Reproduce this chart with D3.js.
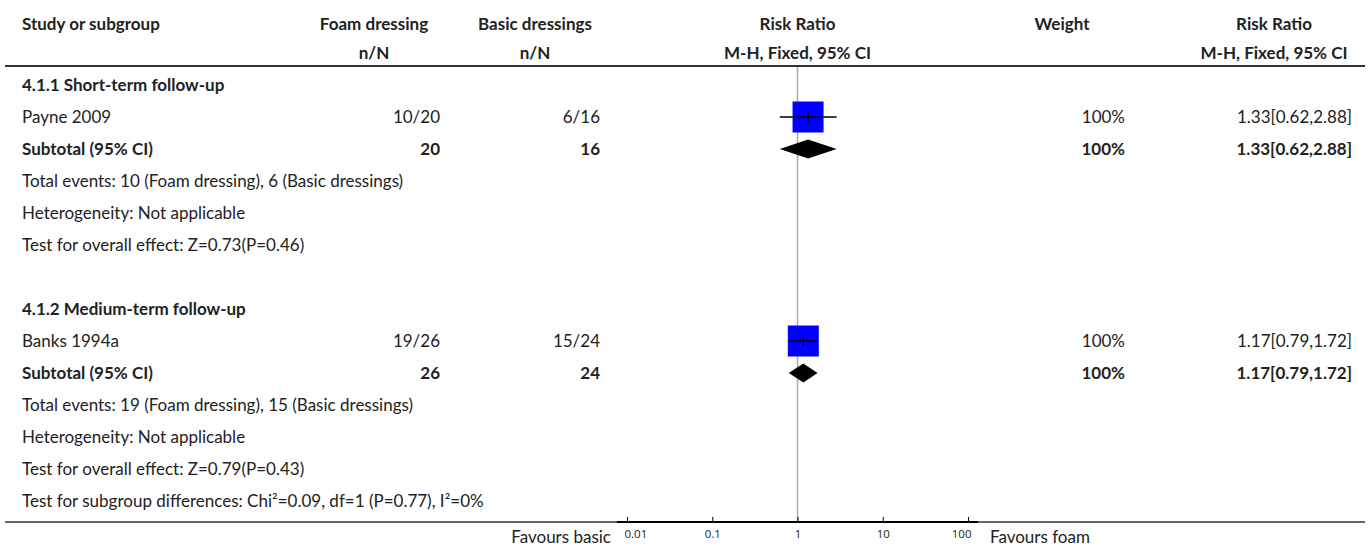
<!DOCTYPE html>
<meta charset="utf-8">
<html>
  <style>
    body { margin: 0; background: #fff; }
    text { font-family: "Source Sans Pro", Lato, sans-serif; font-size: 17px; fill: #222; }
    .bold { font-weight: bold; }
    .tick text { font-family: "Open Sans", "DejaVu Sans", sans-serif; font-size: 11.5px; fill: #222; }
  </style>
  <head>
    <script src="https://d3js.org/d3.v7.min.js"></script>
  </head>
  <body>
    <script>
      // data
      var groupNames = ["4.1.1 Short-term follow-up", "4.1.2 Medium-term follow-up"];
      var studyNames = ["Payne 2009", "Banks 1994a"];
      var foamEvents = [10, 19], foamTotal = [20, 26];
      var basicEvents = [6, 15], basicTotal = [16, 24];
      var riskRatio = [1.33, 1.17], ciLow = [0.62, 0.79], ciHigh = [2.88, 1.72];
      var weights = [100, 100];
      var overallEffect = ["Z=0.73(P=0.46)", "Z=0.79(P=0.43)"];
      var subgroupTest = "Test for subgroup differences: Chi\u00b2=0.09, df=1 (P=0.77), I\u00b2=0%";
      var axisTicks = [0.01, 0.1, 1, 10, 100];

      var width = 1370, height = 550;

      var svg = d3.select("body").append("svg")
          .attr("width", width)
          .attr("height", height);

      // columns
      var colStudy = 22, colFoam = 440, colBasic = 600,
          colFoamHead = 374, colBasicHead = 535,
          colWeightHead = 1062, colWeight = 1125, colRR = 1352, colRRHead = 1274;

      // row positions
      var row = d3.scaleLinear().domain([0, 13]).range([85, 501]);
      var headY1 = 24, headY2 = 53, ruleY = 66, axisY = 522;

      // forest scale
      var x = d3.scaleLog().domain([0.01, 100]).range([627, 968]);

      function txt(xp, yp, s, anchor, bold) {
        return svg.append("text")
          .attr("x", xp).attr("y", yp).attr("dy", "0.35em")
          .attr("text-anchor", anchor || "start")
          .attr("class", bold ? "bold" : null)
          .text(s);
      }

      // header
      txt(colStudy, headY1, "Study or subgroup", "start", true);
      txt(colFoamHead, headY1, "Foam dressing", "middle", true);
      txt(colBasicHead, headY1, "Basic dressings", "middle", true);
      txt(x(1), headY1, "Risk Ratio", "middle", true);
      txt(colWeightHead, headY1, "Weight", "middle", true);
      txt(colRRHead, headY1, "Risk Ratio", "middle", true);
      txt(colFoamHead, headY2, "n/N", "middle", true);
      txt(colBasicHead, headY2, "n/N", "middle", true);
      txt(x(1), headY2, "M-H, Fixed, 95% CI", "middle", true);
      txt(colRRHead, headY2, "M-H, Fixed, 95% CI", "middle", true);

      svg.append("line")
        .attr("x1", 5).attr("x2", width - 5)
        .attr("y1", ruleY).attr("y2", ruleY)
        .style("stroke", "#333").style("stroke-width", 2);

      // line of no effect
      svg.append("line")
        .attr("x1", x(1)).attr("x2", x(1))
        .attr("y1", ruleY + 1).attr("y2", axisY)
        .style("stroke", "#aaa").style("stroke-width", 1.5);

      var fmt = d3.format(".2f");
      function ciText(i) {
        return fmt(riskRatio[i]) + "[" + fmt(ciLow[i]) + "," + fmt(ciHigh[i]) + "]";
      }

      for (var i = 0; i < groupNames.length; i++) {
        var r0 = i * 7;
        txt(colStudy, row(r0), groupNames[i], "start", true);

        // study row
        var ys = row(r0 + 1);
        txt(colStudy, ys, studyNames[i]);
        txt(colFoam, ys, foamEvents[i] + "/" + foamTotal[i], "end");
        txt(colBasic, ys, basicEvents[i] + "/" + basicTotal[i], "end");
        txt(colWeight, ys, weights[i] + "%", "end");
        txt(colRR, ys, ciText(i), "end");

        var sq = 31;
        svg.append("rect")
          .attr("x", x(riskRatio[i]) - sq / 2).attr("y", ys - sq / 2)
          .attr("width", sq).attr("height", sq)
          .style("fill", "#0000ff");
        svg.append("line")
          .attr("x1", x(ciLow[i])).attr("x2", x(ciHigh[i]))
          .attr("y1", ys).attr("y2", ys)
          .style("stroke", "#000").style("stroke-width", 1.5);
        svg.append("line")
          .attr("x1", x(riskRatio[i])).attr("x2", x(riskRatio[i]))
          .attr("y1", ys - 5).attr("y2", ys + 5)
          .style("stroke", "#000").style("stroke-width", 1.5);

        // subtotal row
        var yt = row(r0 + 2);
        txt(colStudy, yt, "Subtotal (95% CI)", "start", true);
        txt(colFoam, yt, foamTotal[i], "end", true);
        txt(colBasic, yt, basicTotal[i], "end", true);
        txt(colWeight, yt, weights[i] + "%", "end", true);
        txt(colRR, yt, ciText(i), "end", true);
        var h = 9.5;
        svg.append("path")
          .attr("d", "M" + x(ciLow[i]) + "," + yt +
                     "L" + x(riskRatio[i]) + "," + (yt - h) +
                     "L" + x(ciHigh[i]) + "," + yt +
                     "L" + x(riskRatio[i]) + "," + (yt + h) + "Z")
          .style("fill", "#000");

        txt(colStudy, row(r0 + 3), "Total events: " + foamEvents[i] + " (Foam dressing), " +
            basicEvents[i] + " (Basic dressings)");
        txt(colStudy, row(r0 + 4), "Heterogeneity: Not applicable");
        txt(colStudy, row(r0 + 5), "Test for overall effect: " + overallEffect[i]);
      }
      txt(colStudy, row(13), subgroupTest);

      // bottom rule and axis
      svg.append("line")
        .attr("x1", 5).attr("x2", width - 5)
        .attr("y1", axisY).attr("y2", axisY)
        .style("stroke", "#333").style("stroke-width", 1.5);

      var axis = svg.append("g")
        .attr("transform", "translate(0," + axisY + ")")
        .call(d3.axisBottom(x).tickValues(axisTicks)
              .tickFormat(function(d) { return String(d); })
              .tickSizeInner(-5).tickSizeOuter(0).tickPadding(8));
      axis.select(".domain").attr("d", "M617,0H978").style("stroke", "#000").style("stroke-width", 2);
      axis.selectAll(".tick line").style("stroke", "#000");
      // outer labels sit inside the axis ends
      axis.selectAll(".tick text")
        .attr("text-anchor", function(d) { return d === axisTicks[0] ? "start" : d === axisTicks[axisTicks.length - 1] ? "end" : "middle"; })
        .attr("dx", function(d) { return d === axisTicks[0] ? -3 : d === axisTicks[axisTicks.length - 1] ? 3 : 0; });

      txt(611, axisY + 15, "Favours basic", "end");
      txt(990, axisY + 15, "Favours foam", "start");
    </script>
  </body>
</html>
